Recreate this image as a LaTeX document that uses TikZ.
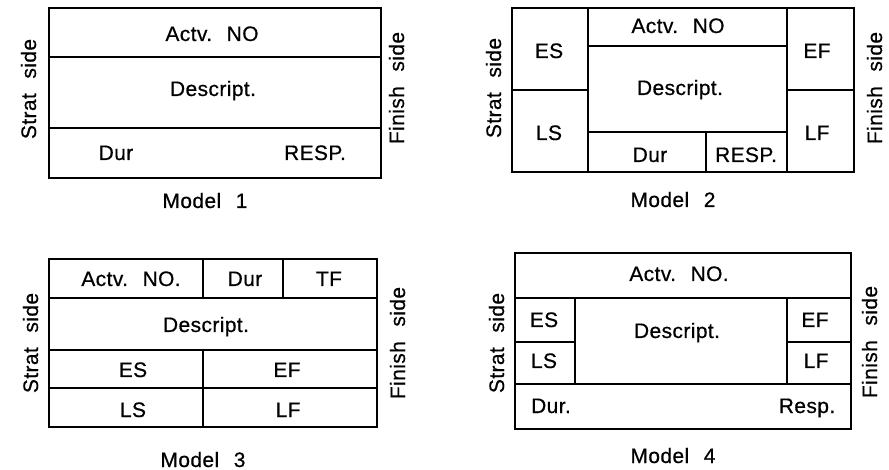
\documentclass[tikz,border=0pt]{standalone}
\usepackage{fontspec}
\setmainfont[LetterSpace=2,FakeBold=0.6]{Liberation Sans}
\newcommand\wsp{\hspace{0.7em}}
\begin{document}
\begin{tikzpicture}[x=1bp,y=-1bp,
  lab/.style={font=\fontsize{21}{25}\selectfont, inner sep=0pt, anchor=base},
  side/.style={lab, rotate=90},
  outer/.style={line width=2.8bp},
  inner/.style={line width=1.3bp},
  midline/.style={line width=1.8bp}]
\useasboundingbox (0,0) rectangle (889,470);

% ---------------- Model 1
\draw[outer] (49,8) rectangle (381,178);
\draw[inner] (49,57) -- (381,57);
\draw[inner] (49,128) -- (381,128);
\node[lab] (m1a) at (212,41) {Actv.\wsp NO};
\node[lab] (m1d) at (213,96) {Descript.};
\node[lab] (m1u) at (116,160) {Dur};
\node[lab] (m1r) at (315,160) {RESP.};
\node[lab] (m1t) at (205,208) {Model\wsp 1};
\node[side] (m1s) at (36,89) {Strat\wsp side};
\node[side] (m1f) at (404,88) {Finish\wsp side};

% ---------------- Model 2
\draw[outer] (512,8) rectangle (854,172);
\draw[midline] (588,8) -- (588,172);
\draw[midline] (787,8) -- (787,172);
\draw[inner] (512,90) -- (588,90);
\draw[inner] (787,90) -- (854,90);
\draw[inner] (588,46) -- (787,46);
\draw[inner] (588,132) -- (787,132);
\draw[inner] (706,132) -- (706,172);
\node[lab] (m2es) at (549,58) {ES};
\node[lab] (m2ls) at (549,140) {LS};
\node[lab] (m2ef) at (817,58) {EF};
\node[lab] (m2lf) at (817,140) {LF};
\node[lab] (m2a) at (678,33) {Actv.\wsp NO};
\node[lab] (m2d) at (680,95) {Descript.};
\node[lab] (m2u) at (650,162) {Dur};
\node[lab] (m2r) at (746,162) {RESP.};
\node[lab] (m2t) at (673,207) {Model\wsp 2};
\node[side] (m2s) at (501,88) {Strat\wsp side};
\node[side] (m2f) at (882,88) {Finish\wsp side};

% ---------------- Model 3
\draw[outer] (49,259) rectangle (377,427);
\draw[inner] (49,298) -- (377,298);
\draw[inner] (49,350) -- (377,350);
\draw[inner] (49,388) -- (377,388);
\draw[inner] (203,259) -- (203,298);
\draw[inner] (283,259) -- (283,298);
\draw[inner] (203,350) -- (203,427);
\node[lab] (m3a) at (131,286) {Actv.\wsp NO.};
\node[lab] (m3u) at (245,286) {Dur};
\node[lab] (m3tf) at (329,286) {TF};
\node[lab] (m3d) at (206,332) {Descript.};
\node[lab] (m3es) at (133,377) {ES};
\node[lab] (m3ef) at (287,377) {EF};
\node[lab] (m3ls) at (133,417) {LS};
\node[lab] (m3lf) at (288,417) {LF};
\node[lab] (m3t) at (203,467) {Model\wsp 3};
\node[side] (m3s) at (38,343) {Strat\wsp side};
\node[side] (m3f) at (405,343) {Finish\wsp side};

% ---------------- Model 4
\draw[outer] (515,253) rectangle (851,429);
\draw[midline] (515,298) -- (851,298);
\draw[midline] (515,384) -- (851,384);
\draw[inner] (575,298) -- (575,384);
\draw[inner] (787,298) -- (787,384);
\draw[inner] (515,342) -- (575,342);
\draw[inner] (787,342) -- (851,342);
\node[lab] (m4a) at (679,281) {Actv.\wsp NO.};
\node[lab] (m4es) at (544,327) {ES};
\node[lab] (m4ls) at (544,368) {LS};
\node[lab] (m4ef) at (815,327) {EF};
\node[lab] (m4lf) at (816,368) {LF};
\node[lab] (m4d) at (677,338) {Descript.};
\node[lab] (m4u) at (551,413) {Dur.};
\node[lab] (m4r) at (807,413) {Resp.};
\node[lab] (m4t) at (673,463) {Model\wsp 4};
\node[side] (m4s) at (504,343) {Strat\wsp side};
\node[side] (m4f) at (877,342) {Finish\wsp side};
\end{tikzpicture}
\end{document}
